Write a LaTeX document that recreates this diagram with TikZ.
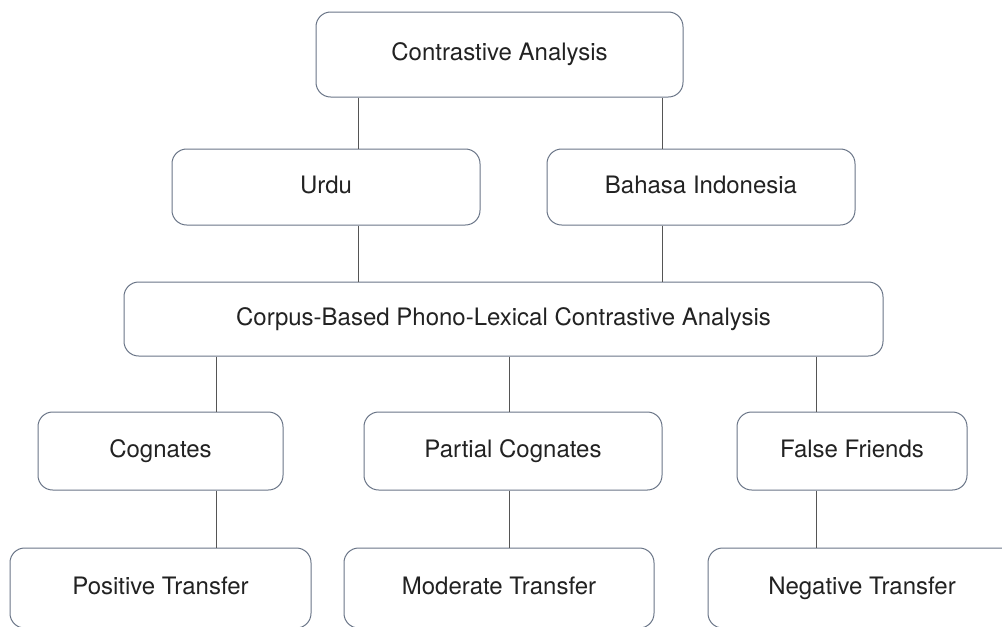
\documentclass[tikz,border=0pt]{standalone}
\usepackage{fontspec}
\setmainfont{TeX Gyre Heros}
\definecolor{boxline}{HTML}{6B7688}
\definecolor{conn}{HTML}{555555}
\definecolor{txt}{HTML}{222222}
\begin{document}
\begin{tikzpicture}[x=0.75pt,y=-0.75pt,
  box/.style={draw=boxline,line width=0.75pt,rounded corners=11pt,fill=white,
    inner sep=0pt,font=\fontsize{18}{22}\selectfont,text=txt,
    text height=13pt,text depth=4pt},
  link/.style={draw=conn,line width=0.75pt}]
\useasboundingbox (0,0) rectangle (1002,626);
\clip (0,0) rectangle (1002,626);
\fill[white] (0,0) rectangle (1002,626);
\node[box,minimum width=275.25pt,minimum height=63.75pt] (ca) at (499.5,54.5) {Contrastive Analysis};
\node[box,minimum width=231pt,minimum height=57pt] (urdu) at (326,187) {Urdu};
\node[box,minimum width=231pt,minimum height=57pt] (bi) at (701,187) {Bahasa Indonesia};
\node[box,minimum width=569.25pt,minimum height=55.5pt] (corpus) at (503.5,319) {Corpus-Based Phono-Lexical Contrastive Analysis};
\node[box,minimum width=183.75pt,minimum height=58.5pt] (cog) at (160.5,451) {Cognates};
\node[box,minimum width=223.5pt,minimum height=58.5pt] (pc) at (513,451) {Partial Cognates};
\node[box,minimum width=172.5pt,minimum height=58.5pt] (ff) at (852,451) {False Friends};
\node[box,minimum width=225.75pt,minimum height=60pt] (pt) at (160.5,588) {Positive Transfer};
\node[box,minimum width=232.5pt,minimum height=60pt] (mt) at (499,588) {Moderate Transfer};
\node[box,minimum width=231pt,minimum height=60pt] (nt) at (862,588) {Negative Transfer};
\draw[link] (ca.south -| 358,0) -- (urdu.north -| 358,0);
\draw[link] (ca.south -| 662,0) -- (bi.north -| 662,0);
\draw[link] (urdu.south -| 358,0) -- (corpus.north -| 358,0);
\draw[link] (bi.south -| 662,0) -- (corpus.north -| 662,0);
\draw[link] (corpus.south -| 216,0) -- (cog.north -| 216,0);
\draw[link] (corpus.south -| 509,0) -- (pc.north -| 509,0);
\draw[link] (corpus.south -| 816,0) -- (ff.north -| 816,0);
\draw[link] (cog.south -| 216,0) -- (pt.north -| 216,0);
\draw[link] (pc.south -| 509,0) -- (mt.north -| 509,0);
\draw[link] (ff.south -| 816,0) -- (nt.north -| 816,0);
\end{tikzpicture}
\end{document}
